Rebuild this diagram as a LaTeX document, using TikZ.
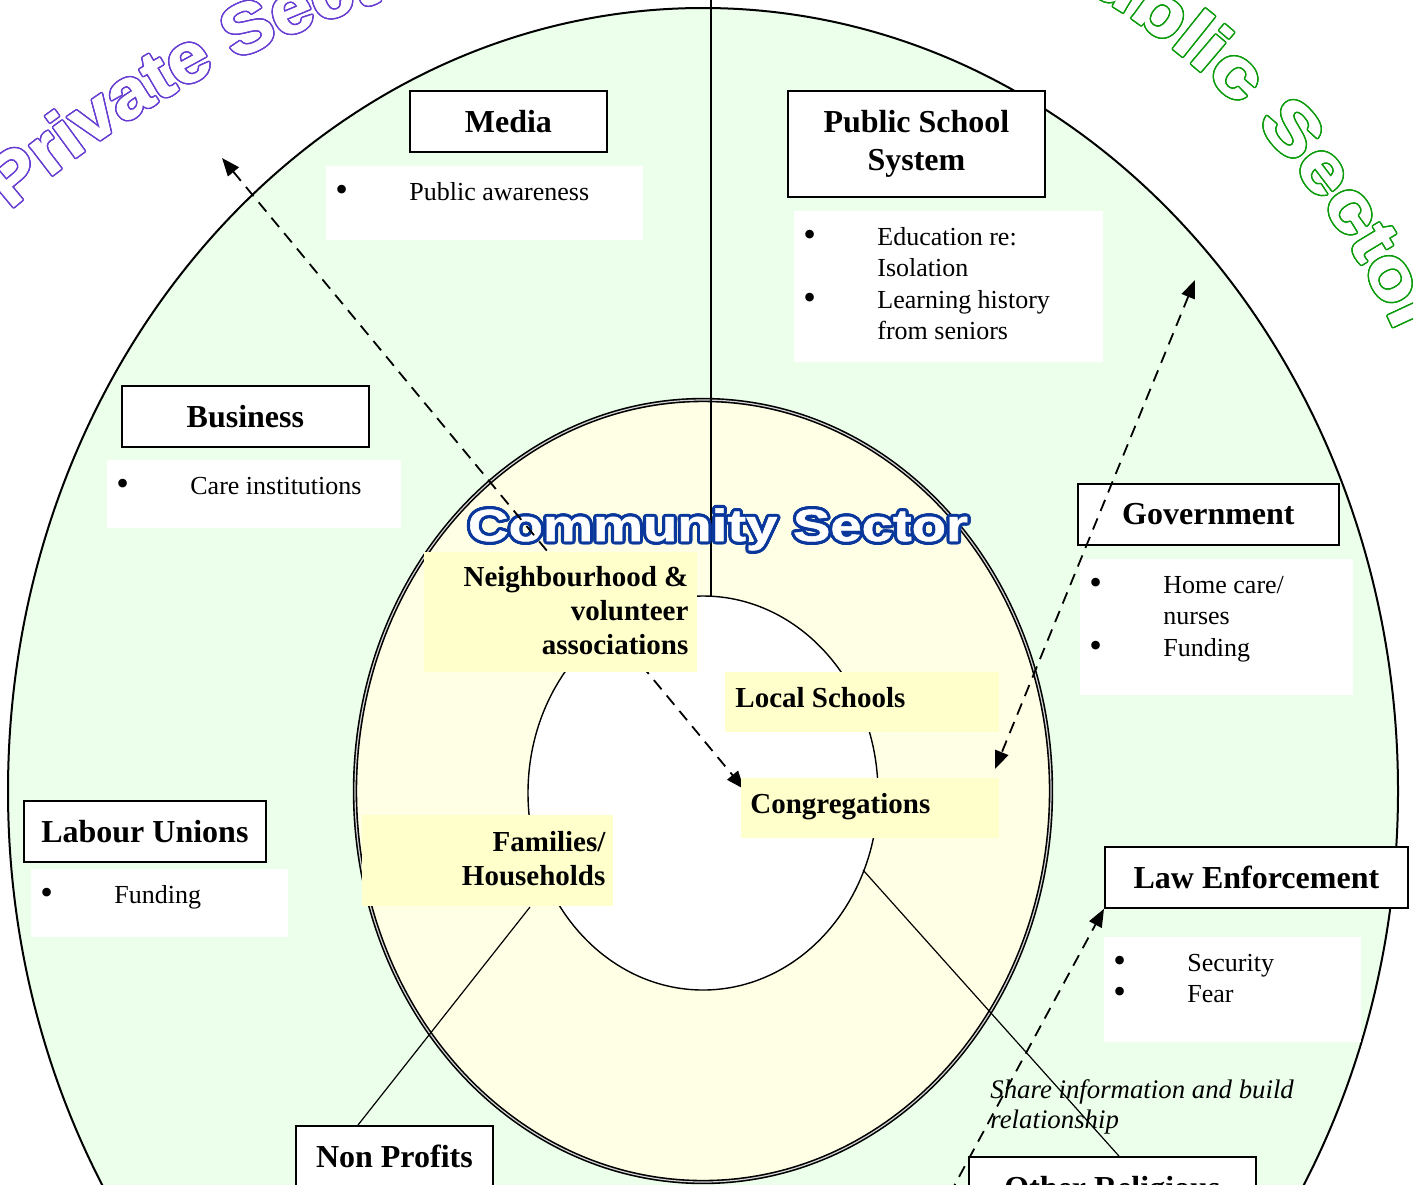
\documentclass[tikz,border=0pt]{standalone}
\usepackage{fontspec}
\setmainfont{Liberation Serif}
\newfontfamily\artfont[FakeStretch=1.07,FakeBold=1.2]{Liberation Sans}
\newfontfamily\artfontwide[FakeStretch=1.2,FakeBold=1.2]{Liberation Sans}
\newfontfamily\csfont[FakeStretch=1.25,FakeBold=1.2]{Liberation Sans}
\usetikzlibrary{arrows.meta,decorations.text,calc}
\definecolor{sgreen}{RGB}{235,255,235}
\definecolor{syellow}{RGB}{255,255,230}
\definecolor{boxyellow}{RGB}{255,255,204}
\definecolor{pvpurple}{RGB}{102,60,210}
\definecolor{pbgreen}{RGB}{10,155,10}
\definecolor{csblue}{RGB}{10,55,155}
\newlength\olw
\newcommand\outlinetext[3]{%
  \setlength\olw{#2}%
  \hbox{\foreach \oa in {0,22.5,...,337.5}{%
      \pgfmathsetlengthmacro\odx{\olw*cos(\oa)}%
      \pgfmathsetlengthmacro\ody{\olw*sin(\oa)}%
      \rlap{\kern\odx\raisebox{\ody}{\textcolor{#1}{#3}}}}%
    \textcolor{white}{#3}}}
\newcommand\blt{\raisebox{-0.5pt}{\fontsize{18}{15.7}\selectfont\textbullet}}
\tikzset{
  headbox/.style={draw, line width=0.9pt, fill=white, inner sep=0pt, anchor=north west,
    align=center, font=\fontsize{16}{19}\selectfont\bfseries},
  bulbox/.style={fill=white, inner sep=0pt, anchor=north west},
  ylwbox/.style={fill=boxyellow, inner sep=0pt, anchor=north west},
  bultext/.style={inner sep=0pt, anchor=base west, font=\fontsize{13}{15.7}\selectfont},
  ylwtext/.style={inner sep=0pt, font=\fontsize{14.5}{17}\selectfont\bfseries},
  link/.style={line width=0.6pt},
  dasharrow/.style={line width=0.9pt, dash pattern=on 6pt off 4pt},
  arcword/.style={decorate, decoration={text along path, text color=#1,
     text={|\arcfont\bfseries\fontsize{35}{35}\selectfont|\arcstring}}},
}
\begin{document}
\begin{tikzpicture}[x=0.5pt,y=-0.5pt,>={Triangle[length=9pt,width=7pt]}]
\useasboundingbox (0,0) rectangle (1413,1184);
\clip (0,0) rectangle (1413,1184);

% sector titles along arcs
\def\arcstring{Private Sector}
\let\arcfont\artfont
\foreach \oa in {0,22.5,...,337.5}{
  \path[arcword=pvpurple] ([shift={(\oa:0.75pt)}]10,210) arc[start angle=-131.04, end angle=-60, radius=1055];
}
\path[arcword=white] (10,210) arc[start angle=-131.04, end angle=-60, radius=1055];
\def\arcstring{Public Sector}
\let\arcfont\artfontwide
\foreach \oa in {0,22.5,...,337.5}{
  \path[arcword=pbgreen] ([shift={(\oa:0.75pt)}]1034.3,-38.2) arc[start angle=-64.2, end angle=0, radius=760];
}
\path[arcword=white] (1034.3,-38.2) arc[start angle=-64.2, end angle=0, radius=760];

% ellipses
\draw[line width=1pt, fill=sgreen] (703,791) ellipse [x radius=695, y radius=783];
\draw[line width=0.8pt, double=gray!35, double distance=0.6pt, fill=syellow] (703,791) ellipse [x radius=348, y radius=391];
\draw[line width=0.7pt, fill=white] (703,793) ellipse [x radius=175, y radius=197];

% coordinates for connectors
\coordinate (vt) at (711,-2);
\coordinate (vb) at (711,596);
\coordinate (l1s) at (530,907);
\coordinate (l2s) at (863,870);
\coordinate (d1a) at (222,158);
\coordinate (d2a) at (1195,280);
\coordinate (d2b) at (995,769);
\coordinate (d3s) at (940,1212);

\draw[link] (vt) -- (vb);

% community sector title
\node[inner sep=0pt, anchor=base] (cs) at (718,541)
  {\outlinetext{csblue}{1.6pt}{\csfont\bfseries\fontsize{22.5}{24}\selectfont Community Sector}};

% yellow box for local schools
\node[ylwbox, minimum width=137pt, minimum height=30pt] (ls) at (725,672) {};

% heading boxes
\node[headbox, minimum width=98.5pt, minimum height=30.5pt] (media) at (409,90) {Media};
\node[headbox, minimum width=128.5pt, minimum height=53pt] (pss) at (787,90) {\raisebox{1.5pt}{\begin{tabular}{@{}c@{}}Public School\\System\end{tabular}}};
\node[headbox, minimum width=123.5pt, minimum height=30.5pt] (bus) at (121,385) {Business};
\node[headbox, minimum width=130.5pt, minimum height=30.5pt] (gov) at (1077,483) {Government};
\node[headbox, minimum width=121pt, minimum height=30.5pt] (lab) at (23,800) {Labour Unions};
\node[headbox, minimum width=151.5pt, minimum height=30.5pt] (law) at (1104,846) {Law Enforcement};
\node[headbox, minimum width=98.5pt, minimum height=30.5pt] (np) at (295,1125) {Non Profits};
\node[headbox, minimum width=143.5pt, minimum height=30.5pt, text depth=0pt] (orel) at (968,1156) {Other Religious};

% solid links
\draw[link] (l1s) -- ($(np.north west)+(63,0)$);
\draw[link] (l2s) -- ($(orel.north)+(6.5,0)$);

% dashed arrow, partly hidden behind the neighbourhood box
\node[ylwbox, minimum width=129pt, minimum height=30pt] (cong) at (741,778) {};
\draw[dasharrow,<->] (d1a) -- ($(cong.north west)+(3,11)$);

% yellow boxes over the dashed arrow
\node[ylwbox, minimum width=136.5pt, minimum height=60pt] (nb) at (424,552) {};
\node[ylwbox, minimum width=125.5pt, minimum height=45.5pt] (fam) at (362,815) {};
\node[ylwbox, minimum width=129pt, minimum height=30pt] (cong2) at (741,778) {};

% yellow texts
\node[ylwtext, anchor=base east] (nbt) at ($(nb.north east)+(-9,34.5)$)
  {\begin{tabular}[t]{@{}r@{}}Neighbourhood \&\\volunteer\\associations\end{tabular}};
\node[ylwtext, anchor=base west] (lst) at ($(ls.north west)+(10,35.5)$) {Local Schools};
\node[ylwtext, anchor=base west] (congt) at ($(cong.north west)+(9,35.5)$) {Congregations};
\node[ylwtext, anchor=base east] (famt) at ($(fam.north east)+(-8,36.5)$)
  {\begin{tabular}[t]{@{}r@{}}Families/\\Households\end{tabular}};

% bullet boxes
\node[bulbox, minimum width=158.5pt, minimum height=37pt] (mb) at (326,166) {};
\node[bulbox, minimum width=154.5pt, minimum height=75.5pt] (pb) at (794,211) {};
\node[bulbox, minimum width=147pt, minimum height=34pt] (bb) at (107,460) {};
\node[bulbox, minimum width=136.5pt, minimum height=68pt] (gb) at (1080,559) {};
\node[bulbox, minimum width=128.5pt, minimum height=34pt] (lb) at (31,869) {};
\node[bulbox, minimum width=128.5pt, minimum height=52.5pt] (eb) at (1104,937) {};

\node[bultext] (mbt) at ($(mb.north west)+(9,34.5)$)
  {\begin{tabular}[t]{@{}p{37pt}@{}l@{}}\blt & Public awareness\end{tabular}};
\node[bultext] (pbt) at ($(pb.north west)+(9,34.5)$)
  {\begin{tabular}[t]{@{}p{37pt}@{}l@{}}\blt & Education re:\\ & Isolation\\ \blt & Learning history\\ & from seniors\end{tabular}};
\node[bultext] (bbt) at ($(bb.north west)+(9,34.5)$)
  {\begin{tabular}[t]{@{}p{37pt}@{}l@{}}\blt & Care institutions\end{tabular}};
\node[bultext] (gbt) at ($(gb.north west)+(9,34.5)$)
  {\begin{tabular}[t]{@{}p{37pt}@{}l@{}}\blt & Home care/\\ & nurses\\ \blt & Funding\end{tabular}};
\node[bultext] (lbt) at ($(lb.north west)+(9,34.5)$)
  {\begin{tabular}[t]{@{}p{37pt}@{}l@{}}\blt & Funding\end{tabular}};
\node[bultext] (ebt) at ($(eb.north west)+(9,34.5)$)
  {\begin{tabular}[t]{@{}p{37pt}@{}l@{}}\blt & Security\\ \blt & Fear\end{tabular}};

% italic note
\node[inner sep=0pt, anchor=base west, font=\fontsize{13.4}{15}\selectfont\itshape] (note) at (990,1098)
  {\begin{tabular}[t]{@{}l@{}}Share information and build\\relationship\end{tabular}};

% dashed arrows on top
\draw[dasharrow,<->] (d2a) -- (d2b);
\draw[dasharrow,->] (d3s) -- (law.south west);
\end{tikzpicture}
\end{document}
